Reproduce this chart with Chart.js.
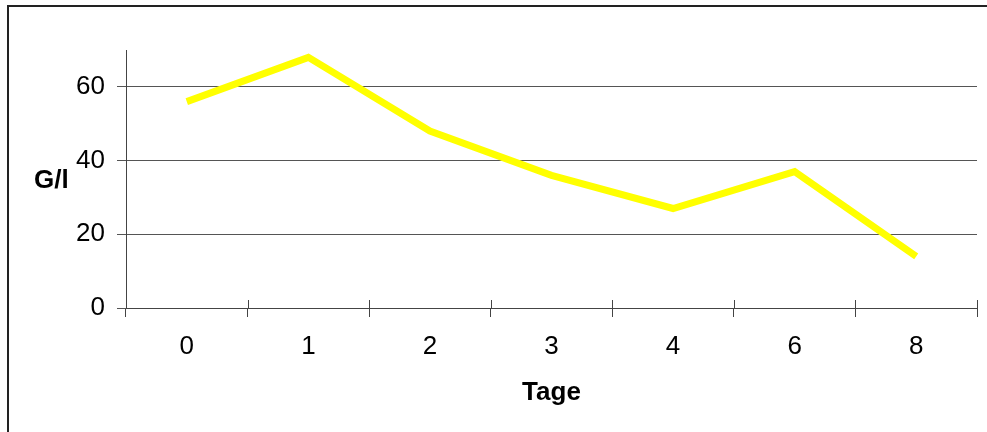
<!DOCTYPE html>
<html>
<head>
<meta charset="utf-8">
<script src="https://cdn.jsdelivr.net/npm/chart.js@4.4.1/dist/chart.umd.min.js"></script>
<style>
    html, body { margin: 0; padding: 0; background: #fff; }
    #wrap { position: relative; width: 987px; height: 432px; }
    #frame {
        position: absolute; left: 7px; top: 5px; right: -10px; bottom: -10px;
        border-top: 2px solid #222; border-left: 2px solid #222;
        pointer-events: none;
    }
</style>
</head>
<body>
<div id="wrap">
    <canvas id="chart"></canvas>
    <div id="frame"></div>
</div>
<script>
// Tage (days) and measured values in G/l
const days = ['0', '1', '2', '3', '4', '6', '8'];
const values = [56, 68, 48, 36, 27, 37, 14];
const yTicks = [0, 20, 40, 60];

Chart.defaults.font.family = '"Liberation Sans", Arial, sans-serif';
Chart.defaults.font.size = 26;
Chart.defaults.color = '#000';

// Excel-style ticks cross the x axis: draw the part above the axis line
const crossTicks = {
    id: 'crossTicks',
    afterDatasetsDraw(chart) {
        const x = chart.scales.x;
        const ctx = chart.ctx;
        const y0 = chart.chartArea.bottom;
        ctx.save();
        ctx.strokeStyle = '#444';
        ctx.lineWidth = 1;
        for (let i = 0; i <= days.length; i++) {
            const px = Math.round(x.getPixelForValue(i - 0.5)) + 0.5;
            ctx.beginPath();
            ctx.moveTo(px, y0);
            ctx.lineTo(px, y0 - 8);
            ctx.stroke();
        }
        ctx.restore();
    }
};

// horizontal y axis title, as in the original
const yTitle = {
    id: 'yTitle',
    afterDraw(chart) {
        const ctx = chart.ctx;
        ctx.save();
        ctx.font = 'bold 26px "Liberation Sans", Arial, sans-serif';
        ctx.fillStyle = '#000';
        ctx.textAlign = 'left';
        ctx.textBaseline = 'alphabetic';
        ctx.fillText('G/l', 34, 188);
        ctx.restore();
    }
};

new Chart(document.getElementById('chart'), {
    type: 'line',
    data: {
        labels: days,
        datasets: [{
            data: values,
            borderColor: '#ffff00',
            backgroundColor: '#ffff00',
            borderWidth: 7,
            borderJoinStyle: 'miter',
            pointRadius: 0,
            tension: 0,
            fill: false
        }]
    },
    options: {
        responsive: true,
        maintainAspectRatio: false,
        animation: false,
        layout: { padding: { top: 50, right: 10, bottom: 0, left: 0 } },
        plugins: {
            legend: { display: false },
            tooltip: { enabled: false }
        },
        scales: {
            x: {
                offset: true,
                afterFit(scale) {
                    scale.height = 124;
                },
                grid: {
                    offset: true,
                    drawOnChartArea: false,
                    drawTicks: true,
                    tickLength: 9,
                    color: '#444'
                },
                border: { display: true, color: '#444', width: 1 },
                ticks: { padding: 14, maxRotation: 0 },
                title: {
                    display: true,
                    text: 'Tage',
                    font: { weight: 'bold', size: 26 },
                    padding: { top: 0, bottom: 24 }
                }
            },
            y: {
                min: 0,
                max: 70,
                afterBuildTicks(scale) {
                    scale.ticks = yTicks.map(v => ({ value: v }));
                },
                afterFit(scale) {
                    scale.width = 126;
                },
                grid: {
                    color: '#555',
                    tickLength: 9,
                    drawTicks: true
                },
                border: { display: true, color: '#444', width: 1 },
                ticks: { padding: 12 }
            }
        }
    },
    plugins: [crossTicks, yTitle]
});
</script>
</body>
</html>
